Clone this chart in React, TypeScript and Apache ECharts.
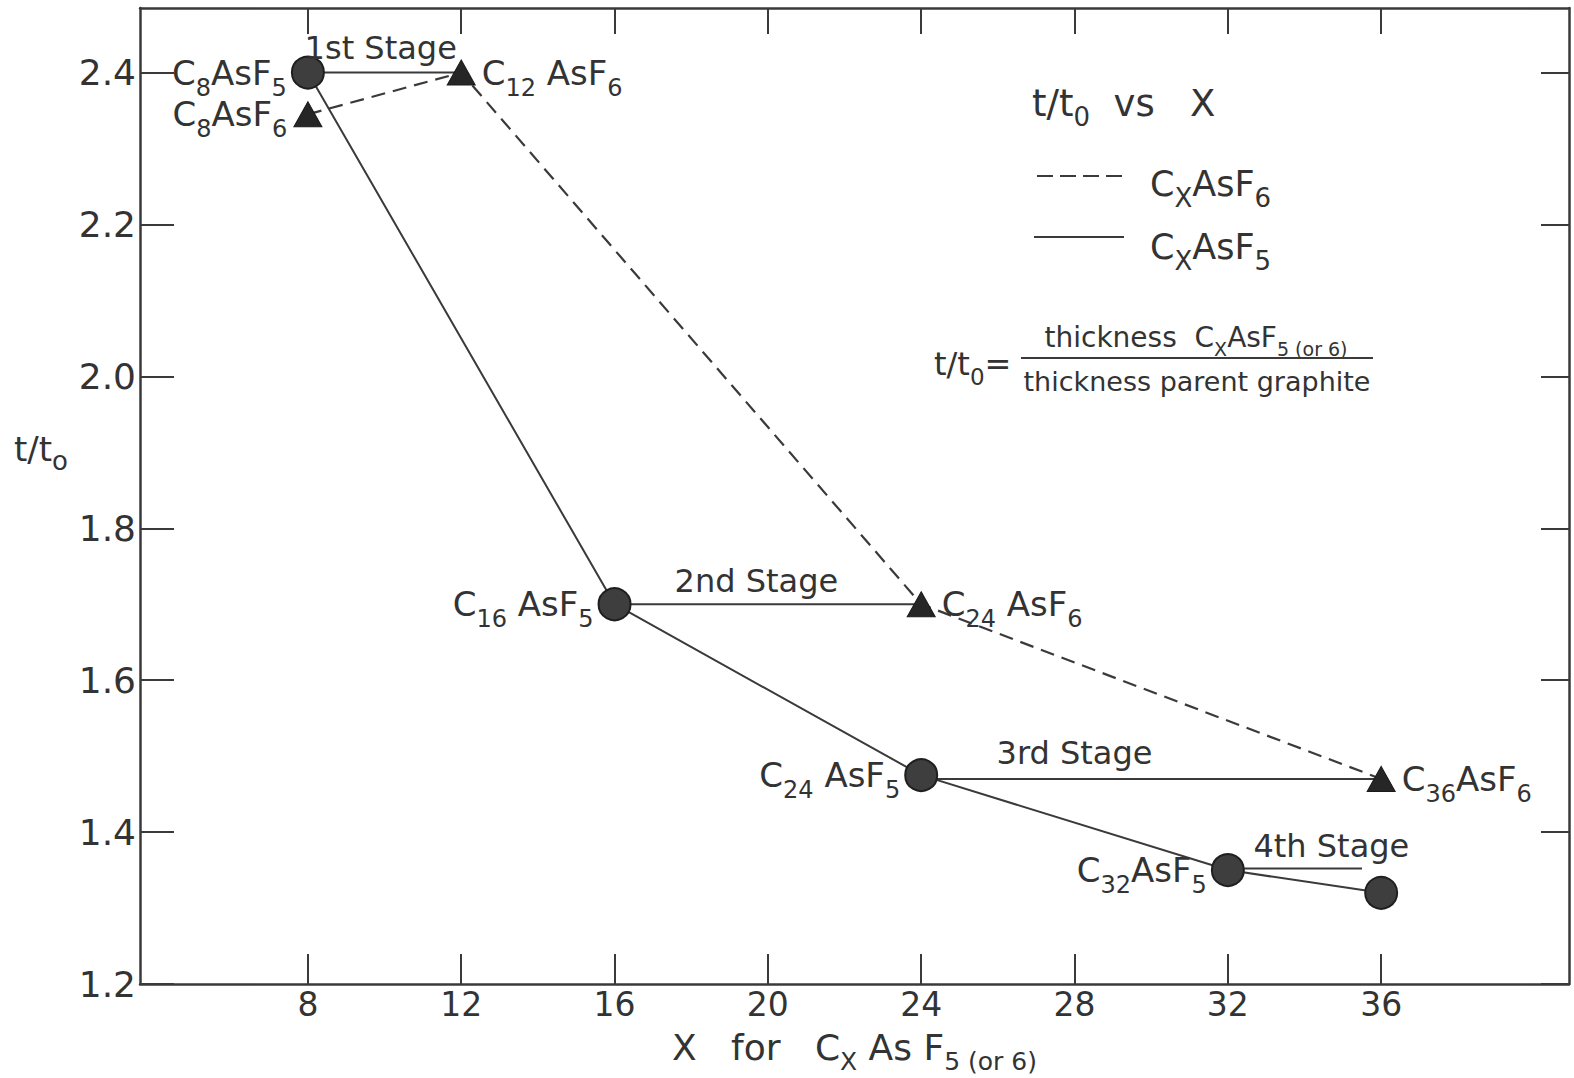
import React, { useEffect, useRef } from "react";
import * as echarts from "echarts";

// ---- data ----
const xTicks = [8, 12, 16, 20, 24, 28, 32, 36];
const yTicks = [1.2, 1.4, 1.6, 1.8, 2.0, 2.2, 2.4];

const xAsF5 = [8, 16, 24, 32, 36];
const tAsF5 = [2.4, 1.7, 1.475, 1.35, 1.32];
const labelAsF5 = ["C8AsF5", "C16 AsF5", "C24 AsF5", "C32AsF5", ""];

const xAsF6 = [8, 12, 24, 36];
const tAsF6 = [2.345, 2.4, 1.7, 1.47];
const labelAsF6 = ["C8AsF6", "C12 AsF6", "C24 AsF6", "C36AsF6"];

const stageNames = ["1st Stage", "2nd Stage", "3rd Stage", "4th Stage"];
const stageFrom = [8, 16, 24, 32];
const stageTo = [12, 24, 36, 35.5];
const stageLevel = [2.4, 1.7, 1.47, 1.352];
const stageTextX = [9.9, 19.7, 28.0, 34.7];
const stageTextY = [2.432, 1.731, 1.504, 1.382];

// ---- styling (not data) ----
const sideAsF5 = ["left", "left", "left", "left", "left"];
const sideAsF6 = ["left", "right", "right", "right"];

const FONT = "DejaVu Sans";
const INK = "#333333";
const LINE = "#3a3a3a";

function chem(s: string, m = "m", sub = "s") {
  const parts = s.match(/\d+|[^\d]+/g) || [];
  return parts.map((p) => (/^\d+$/.test(p) ? `{${sub}|${p}}` : `{${m}|${p}}`)).join("");
}

const richLabel = {
  m: { fontSize: 34, fontFamily: FONT, color: INK, lineHeight: 54 },
  s: { fontSize: 24, fontFamily: FONT, color: INK, lineHeight: 24, verticalAlign: "bottom" },
};

function richG(main: number, sub: number, lh: number) {
  return {
    m: { fontSize: main, fontFamily: FONT, fill: INK, lineHeight: lh },
    s: { fontSize: sub, fontFamily: FONT, fill: INK, lineHeight: sub, verticalAlign: "bottom" },
  };
}

export default function App() {
  const ref = useRef<HTMLDivElement>(null);
  useEffect(() => {
    document.body.style.margin = "0";
    document.body.style.overflow = "hidden";
    const chart = echarts.init(ref.current!, null, { renderer: "svg" });

    const axisLineStyle = { color: LINE, width: 2.5 };
    const xMin = 3.62;
    const xMax = 40.9;
    const yMin = 1.2;
    const yMax = 2.485;

    const stageSeries = stageNames.map((n, i) => ({
      type: "line",
      name: n,
      data: [
        [stageFrom[i], stageLevel[i]],
        [stageTo[i], stageLevel[i]],
      ],
      symbol: "none",
      lineStyle: { color: LINE, width: 2 },
      z: 2,
      silent: true,
    }));

    const option: any = {
      animation: false,
      backgroundColor: "#ffffff",
      grid: { left: 140, right: 5, top: 8, bottom: 94, outerBoundsMode: "none" },
      xAxis: [
        {
          type: "value",
          position: "bottom",
          min: xMin,
          max: xMax,
          axisLine: { show: true, onZero: false, lineStyle: axisLineStyle },
          axisTick: { show: true, inside: true, length: 30, customValues: xTicks, lineStyle: { color: LINE, width: 2 } },
          axisLabel: { customValues: xTicks, fontSize: 33, fontFamily: FONT, color: INK, margin: 4 },
          splitLine: { show: false },
          name: "{m|X   for   C}{s|X}{m| As F}{s|5 (or 6)}",
          nameLocation: "middle",
          nameGap: 36,
          nameTextStyle: {
            rich: {
              m: { fontSize: 36, fontFamily: FONT, color: INK, lineHeight: 54 },
              s: { fontSize: 25, fontFamily: FONT, color: INK, lineHeight: 25, verticalAlign: "bottom" },
            },
          },
        },
        {
          type: "value",
          position: "top",
          min: xMin,
          max: xMax,
          axisLine: { show: true, onZero: false, lineStyle: axisLineStyle },
          axisTick: { show: true, inside: true, length: 26, customValues: xTicks, lineStyle: { color: LINE, width: 2 } },
          axisLabel: { show: false },
          splitLine: { show: false },
        },
      ],
      yAxis: [
        {
          type: "value",
          position: "left",
          min: yMin,
          max: yMax,
          axisLine: { show: true, onZero: false, lineStyle: axisLineStyle },
          axisTick: { show: true, inside: true, length: 34, customValues: yTicks, lineStyle: { color: LINE, width: 2 } },
          axisLabel: {
            customValues: yTicks,
            fontSize: 36,
            fontFamily: FONT,
            color: INK,
            margin: 4,
            formatter: (v: number) => v.toFixed(1),
          },
          splitLine: { show: false },
        },
        {
          type: "value",
          position: "right",
          min: yMin,
          max: yMax,
          axisLine: { show: true, onZero: false, lineStyle: axisLineStyle },
          axisTick: { show: true, inside: true, length: 28, customValues: yTicks, lineStyle: { color: LINE, width: 2 } },
          axisLabel: { show: false },
          splitLine: { show: false },
        },
      ],
      series: [
        ...stageSeries,
        {
          type: "line",
          name: "CxAsF5",
          data: xAsF5.map((x, i) => ({
            value: [x, tAsF5[i]],
            label: {
              show: labelAsF5[i] !== "",
              position: sideAsF5[i],
              distance: 4,
              formatter: chem(labelAsF5[i] || " "),
              rich: richLabel,
            },
          })),
          symbol: "circle",
          symbolSize: 32,
          itemStyle: { color: "#3e3e3e", borderColor: "#1f1f1f", borderWidth: 2 },
          lineStyle: { color: LINE, width: 2 },
          z: 5,
          silent: true,
        },
        {
          type: "line",
          name: "CxAsF6",
          data: xAsF6.map((x, i) => ({
            value: [x, tAsF6[i]],
            label: {
              show: true,
              position: sideAsF6[i],
              distance: 6,
              formatter: chem(labelAsF6[i]),
              rich: richLabel,
            },
          })),
          symbol: "triangle",
          symbolSize: [28, 25],
          itemStyle: { color: "#262626", borderColor: "#1a1a1a", borderWidth: 1 },
          lineStyle: { color: LINE, width: 2.2, type: [14, 8] },
          z: 4,
          silent: true,
        },
        {
          type: "scatter",
          name: "stages",
          data: stageNames.map((n, i) => ({
            value: [stageTextX[i], stageTextY[i]],
            name: n,
          })),
          symbolSize: 1,
          itemStyle: { color: "rgba(0,0,0,0)", opacity: 1 },
          label: {
            show: true,
            position: "inside",
            formatter: (p: any) => p.name,
            fontSize: 32,
            fontFamily: FONT,
            color: INK,
            opacity: 1,
          },
          z: 6,
          silent: true,
        },
      ],
      graphic: [
        // y axis name
        {
          type: "text",
          x: 14,
          y: 449,
          style: {
            text: "{m|t/t}{s|o}",
            align: "left",
            verticalAlign: "middle",
            rich: richG(34, 26, 50),
          },
        },
        // legend title
        {
          type: "text",
          x: 1032,
          y: 103,
          style: {
            text: "{m|t/t}{s|0}{m|  vs   X}",
            align: "left",
            verticalAlign: "middle",
            rich: richG(37, 26, 54),
          },
        },
        {
          type: "line",
          shape: { x1: 1037, y1: 176, x2: 1129, y2: 176 },
          style: { stroke: LINE, lineWidth: 2.2, lineDash: [16, 7] },
        },
        {
          type: "text",
          x: 1150,
          y: 184,
          style: {
            text: "{m|C}{s|X}{m|AsF}{s|6}",
            align: "left",
            verticalAlign: "middle",
            rich: richG(35, 26, 54),
          },
        },
        {
          type: "line",
          shape: { x1: 1034, y1: 237, x2: 1124, y2: 237 },
          style: { stroke: LINE, lineWidth: 2.2 },
        },
        {
          type: "text",
          x: 1150,
          y: 247,
          style: {
            text: "{m|C}{s|X}{m|AsF}{s|5}",
            align: "left",
            verticalAlign: "middle",
            rich: richG(35, 26, 54),
          },
        },
        // formula
        {
          type: "text",
          x: 934,
          y: 364,
          style: {
            text: "{m|t/t}{s|0}{m|=}",
            align: "left",
            verticalAlign: "middle",
            rich: richG(32, 23, 48),
          },
        },
        {
          type: "text",
          x: 1196,
          y: 337,
          style: {
            text: "{m|thickness  C}{s|X}{m|AsF}{s|5 (or 6)}",
            align: "center",
            verticalAlign: "middle",
            rich: richG(28, 19, 42),
          },
        },
        {
          type: "line",
          shape: { x1: 1021, y1: 358, x2: 1373, y2: 358 },
          style: { stroke: LINE, lineWidth: 2 },
        },
        {
          type: "text",
          x: 1197,
          y: 381,
          style: {
            text: "thickness parent graphite",
            align: "center",
            verticalAlign: "middle",
            fontSize: 27,
            fontFamily: FONT,
            fill: INK,
          },
        },
      ],
    };
    chart.setOption(option);
    return () => chart.dispose();
  }, []);
  return <div ref={ref} style={{ width: 1574, height: 1078 }} />;
}
